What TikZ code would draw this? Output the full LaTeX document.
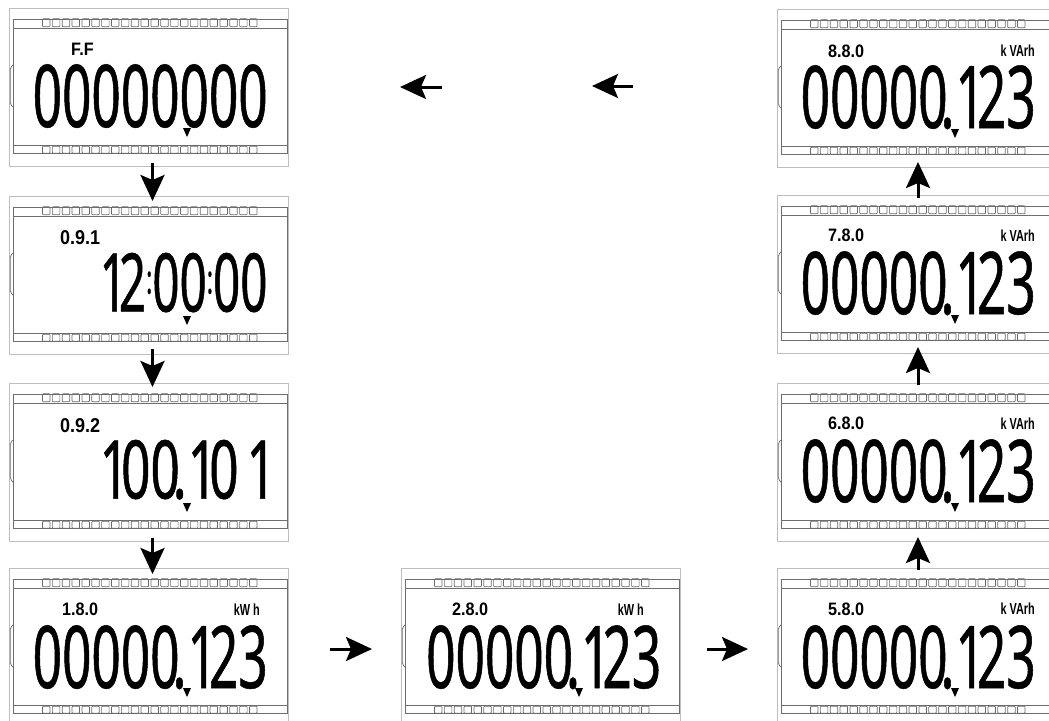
\documentclass[tikz,border=0pt]{standalone}
\usepackage{fontspec}
\usetikzlibrary{arrows.meta,calc}
\newfontfamily\lcdbig{Noto Sans}[FakeStretch=0.593,FakeBold=0.6]
\newfontfamily\lcdbigb{Noto Sans}[FakeStretch=0.634,FakeBold=0.6]
\newfontfamily\lcdbigc{Noto Sans}[FakeStretch=0.587,FakeBold=0.6]
\newfontfamily\lcdlab{Liberation Sans}[FakeStretch=0.9]
\newfontfamily\lcdunit{Liberation Sans}[FakeStretch=0.68]
\definecolor{frameg}{RGB}{190,190,190}
\definecolor{glassg}{RGB}{110,110,110}
\definecolor{segg}{RGB}{105,105,105}
\newcommand\dpt{\kern-7pt\rlap{.}\kern7pt}
\newcommand\one{\kern8pt1\kern-8pt}
\newcommand\clon{\raisebox{18pt}{\fontsize{40}{40}\selectfont :}}
\newcommand\lcdpanel[3]{%
  \node[lcdframe, anchor=north west] (#1) at (#2,#3) {};
  \begin{scope}[shift={(#2,#3)}]
    \draw[glass] (4,11) rectangle (278,145) (4,20) -- (278,20) (4,137) -- (278,137);
    \draw[bumpst] (4,57) -- (1.2,59.5) -- (1.2,96.5) -- (4,99);
    \foreach \k in {0,...,21}{
      \draw[segbox] ({33.5+\k*9.857},10.8) rectangle ++(7.5,8);
      \draw[segbox] ({33.5+\k*9.857},138.2) rectangle ++(7.5,7);
    }
    \fill[black] (174,120) -- (182,120) -- (178,129) -- cycle;
  \end{scope}}
\begin{document}
\begin{tikzpicture}[x=1pt,y=-1pt,
  lcdframe/.style={draw=frameg, line width=0.8pt, fill=white, minimum width=279pt, minimum height=158pt, inner sep=0pt, outer sep=0pt},
  glass/.style={draw=glassg, line width=0.8pt},
  bumpst/.style={draw=segg, line width=0.7pt, rounded corners=2pt},
  segbox/.style={draw=segg, line width=0.7pt, rounded corners=0.8pt},
  bigdig/.style={anchor=base west, inner sep=0pt, font=\lcdbig\fontsize{86.6}{86.6}\selectfont},
  bigdigb/.style={anchor=base west, inner sep=0pt, font=\lcdbigb\fontsize{81}{81}\selectfont},
  bigdigc/.style={anchor=base west, inner sep=0pt, font=\lcdbigc\fontsize{81}{81}\selectfont},
  lab/.style={anchor=base west, inner sep=0pt, font=\lcdlab\bfseries\fontsize{18}{18}\selectfont},
  labb/.style={anchor=base west, inner sep=0pt, font=\lcdlab\bfseries\fontsize{20}{20}\selectfont},
  unit/.style={anchor=base east, inner sep=0pt, font=\lcdunit\bfseries\fontsize{16}{16}\selectfont},
  flow/.style={line width=3pt, -{Stealth[length=26pt,width=24pt,inset=5pt]}}
]
\useasboundingbox (0,0) rectangle (1049,720);
\fill[white] (0,0) rectangle (1049,720);
\clip (0,0) rectangle (1049,720);

% panels
\lcdpanel{p1}{9}{8}
\lcdpanel{p2}{9}{196}
\lcdpanel{p3}{9}{383}
\lcdpanel{p4}{9}{568}
\lcdpanel{p5}{401}{568}
\lcdpanel{p6}{777}{568}
\lcdpanel{p7}{777}{383}
\lcdpanel{p8}{777}{195}
\lcdpanel{p9}{777}{9}

% panel 1
\begin{scope}[shift={(9,8)}]
  \node[lab] (l1) at (62,47) {F.F};
  \node[bigdig] (d1) at (23.5,119) {00000000};
\end{scope}
% panel 2
\begin{scope}[shift={(9,196)}]
  \node[labb] (l2) at (51,48) {0.9.1};
  \node[bigdigc] (d2) at (82.5,115.5) {\one2\clon00\clon00};
\end{scope}
% panel 3
\begin{scope}[shift={(9,383)}]
  \node[labb] (l3) at (51,49) {0.9.2};
  \node[bigdigb] (d3) at (82.5,115.5) {\one00\dpt\one0\one};
\end{scope}
% panel 4
\begin{scope}[shift={(9,568)}]
  \node[lab] (l4) at (53,47) {1.8.0};
  \node[unit] (u4) at (251,47) {kW h};
  \node[bigdig] (d4) at (23.5,120) {00000\dpt\one23};
\end{scope}
% panel 5
\begin{scope}[shift={(401,568)}]
  \node[lab] (l5) at (51,47) {2.8.0};
  \node[unit] (u5) at (243,47) {kW h};
  \node[bigdig] (d5) at (25,120) {00000\dpt\one23};
\end{scope}
% panel 6
\begin{scope}[shift={(777,568)}]
  \node[lab] (l6) at (51,47) {5.8.0};
  \node[unit] (u6) at (258,46) {k VArh};
  \node[bigdig] (d6) at (23.5,120) {00000\dpt\one23};
\end{scope}
% panel 7
\begin{scope}[shift={(777,383)}]
  \node[lab] (l7) at (51,46) {6.8.0};
  \node[unit] (u7) at (258,46) {k VArh};
  \node[bigdig] (d7) at (23.5,119) {00000\dpt\one23};
\end{scope}
% panel 8
\begin{scope}[shift={(777,195)}]
  \node[lab] (l8) at (51,46) {7.8.0};
  \node[unit] (u8) at (258,46) {k VArh};
  \node[bigdig] (d8) at (23.5,119) {00000\dpt\one23};
\end{scope}
% panel 9
\begin{scope}[shift={(777,9)}]
  \node[lab] (l9) at (51,48) {8.8.0};
  \node[unit] (u9) at (258,47) {k VArh};
  \node[bigdig] (d9) at (23.5,119) {00000\dpt\one23};
\end{scope}

% arrows
\draw[flow] ([xshift=4pt,yshift=3pt]p1.south) -- ([xshift=4pt,yshift=-5pt]p2.north);
\draw[flow] ([xshift=4pt,yshift=5pt]p2.south) -- ([xshift=4pt,yshift=-4pt]p3.north);
\draw[flow] ([xshift=4pt,yshift=3pt]p3.south) -- ([xshift=4pt,yshift=-6pt]p4.north);
\draw[flow] ([xshift=42pt,yshift=-2pt]p4.east) -- ([xshift=-29pt,yshift=-2pt]p5.west);
\draw[flow] ([xshift=27pt,yshift=-2pt]p5.east) -- ([xshift=-29pt,yshift=-2pt]p6.west);
\draw[flow] ([xshift=1.5pt,yshift=-2pt]p6.north) -- ([xshift=1.5pt,yshift=4pt]p7.south);
\draw[flow] ([xshift=1.5pt,yshift=-2pt]p7.north) -- ([xshift=1.5pt,yshift=6pt]p8.south);
\draw[flow] ([xshift=1.5pt,yshift=-3pt]p8.north) -- ([xshift=1.5pt,yshift=5pt]p9.south);
\draw[flow] ([xshift=-144pt,yshift=2pt]p9.west) -- ([xshift=-185pt,yshift=2pt]p9.west);
\draw[flow] ([xshift=154pt]p1.east) -- ([xshift=112pt]p1.east);
\end{tikzpicture}
\end{document}
